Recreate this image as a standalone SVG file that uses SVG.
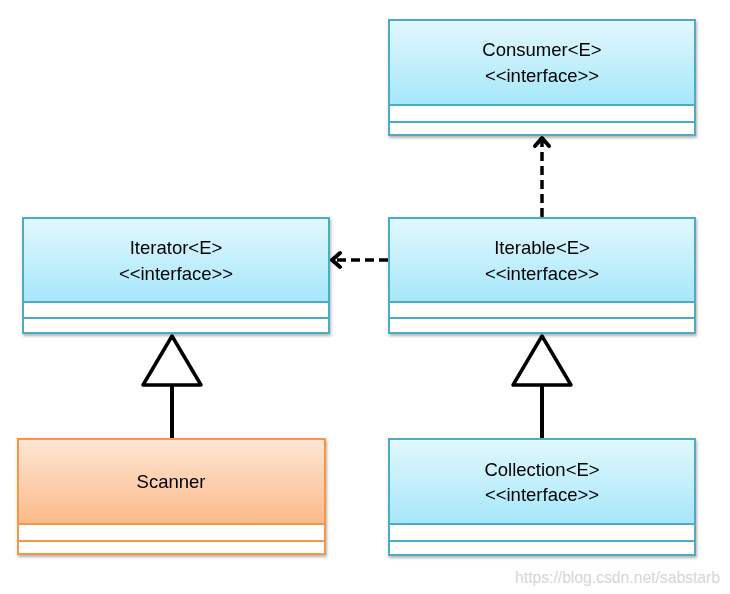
<svg xmlns="http://www.w3.org/2000/svg" width="730" height="594" viewBox="0 0 730 594">
  <defs>
    <linearGradient id="blue" x1="0" y1="0" x2="0" y2="1">
      <stop offset="0" stop-color="#E2F8FE"/>
      <stop offset="1" stop-color="#A6E7FA"/>
    </linearGradient>
    <linearGradient id="orange" x1="0" y1="0" x2="0" y2="1">
      <stop offset="0" stop-color="#FEE6D4"/>
      <stop offset="1" stop-color="#FBBA8A"/>
    </linearGradient>
    <filter id="sh" x="-5%" y="-5%" width="110%" height="115%">
      <feDropShadow dx="1" dy="2" stdDeviation="1.5" flood-color="#000" flood-opacity="0.3"/>
    </filter>
  </defs>
  <style>
    .b { stroke: #4BACC6; stroke-width: 2; }
    .o { stroke: #F79646; stroke-width: 2; }
    .t { font-family: "Liberation Sans", Arial, sans-serif; font-size: 18.5px; fill: #000; text-anchor: middle; }
    .dash { fill: none; stroke: #000; stroke-width: 3.5; stroke-dasharray: 9 5; }
    .head { fill: none; stroke: #000; stroke-width: 4; stroke-linecap: round; stroke-linejoin: round; }
    .solid { fill: none; stroke: #000; stroke-width: 4; }
    .tri { fill: #fff; stroke: #000; stroke-width: 3.5; stroke-linejoin: round; }
  </style>

  <g id="consumer" filter="url(#sh)">
    <rect class="b" x="389" y="20" width="306" height="85" fill="url(#blue)"/>
    <rect class="b" x="389" y="105" width="306" height="17" fill="#fff"/>
    <rect class="b" x="389" y="122" width="306" height="13" fill="#fff"/>
    <text class="t" x="542" y="56">Consumer&lt;E&gt;</text>
    <text class="t" x="542" y="82">&lt;&lt;interface&gt;&gt;</text>
  </g>

  <g id="iterator" filter="url(#sh)">
    <rect class="b" x="23" y="218" width="306" height="84" fill="url(#blue)"/>
    <rect class="b" x="23" y="302" width="306" height="16" fill="#fff"/>
    <rect class="b" x="23" y="318" width="306" height="15" fill="#fff"/>
    <text class="t" x="176" y="254">Iterator&lt;E&gt;</text>
    <text class="t" x="176" y="280">&lt;&lt;interface&gt;&gt;</text>
  </g>

  <g id="iterable" filter="url(#sh)">
    <rect class="b" x="389" y="218" width="306" height="84" fill="url(#blue)"/>
    <rect class="b" x="389" y="302" width="306" height="16" fill="#fff"/>
    <rect class="b" x="389" y="318" width="306" height="15" fill="#fff"/>
    <text class="t" x="542" y="254">Iterable&lt;E&gt;</text>
    <text class="t" x="542" y="280">&lt;&lt;interface&gt;&gt;</text>
  </g>

  <g id="scanner" filter="url(#sh)">
    <rect class="o" x="18" y="439" width="307" height="85" fill="url(#orange)"/>
    <rect class="o" x="18" y="524" width="307" height="17" fill="#fff"/>
    <rect class="o" x="18" y="541" width="307" height="13" fill="#fff"/>
    <text class="t" x="171" y="488">Scanner</text>
  </g>

  <g id="collection" filter="url(#sh)">
    <rect class="b" x="389" y="439" width="306" height="85" fill="url(#blue)"/>
    <rect class="b" x="389" y="524" width="306" height="17" fill="#fff"/>
    <rect class="b" x="389" y="541" width="306" height="14" fill="#fff"/>
    <text class="t" x="542" y="476">Collection&lt;E&gt;</text>
    <text class="t" x="542" y="501">&lt;&lt;interface&gt;&gt;</text>
  </g>

  <g id="connectors">
    <line class="dash" x1="388" y1="260" x2="335" y2="260"/>
    <polyline class="head" points="340,253 332,260 340,267"/>
    <line class="dash" x1="542" y1="217" x2="542" y2="141"/>
    <polyline class="head" points="535,146 542,138 549,146"/>
    <line class="solid" x1="172" y1="385" x2="172" y2="438"/>
    <polygon class="tri" points="172,336 143,385 201,385"/>
    <line class="solid" x1="542" y1="385" x2="542" y2="438"/>
    <polygon class="tri" points="542,336 513,385 571,385"/>
  </g>

  <text x="720" y="583" font-family="Liberation Sans, Arial, sans-serif" font-size="15.7" fill="#D6D6D6" text-anchor="end">https://blog.csdn.net/sabstarb</text>
</svg>
